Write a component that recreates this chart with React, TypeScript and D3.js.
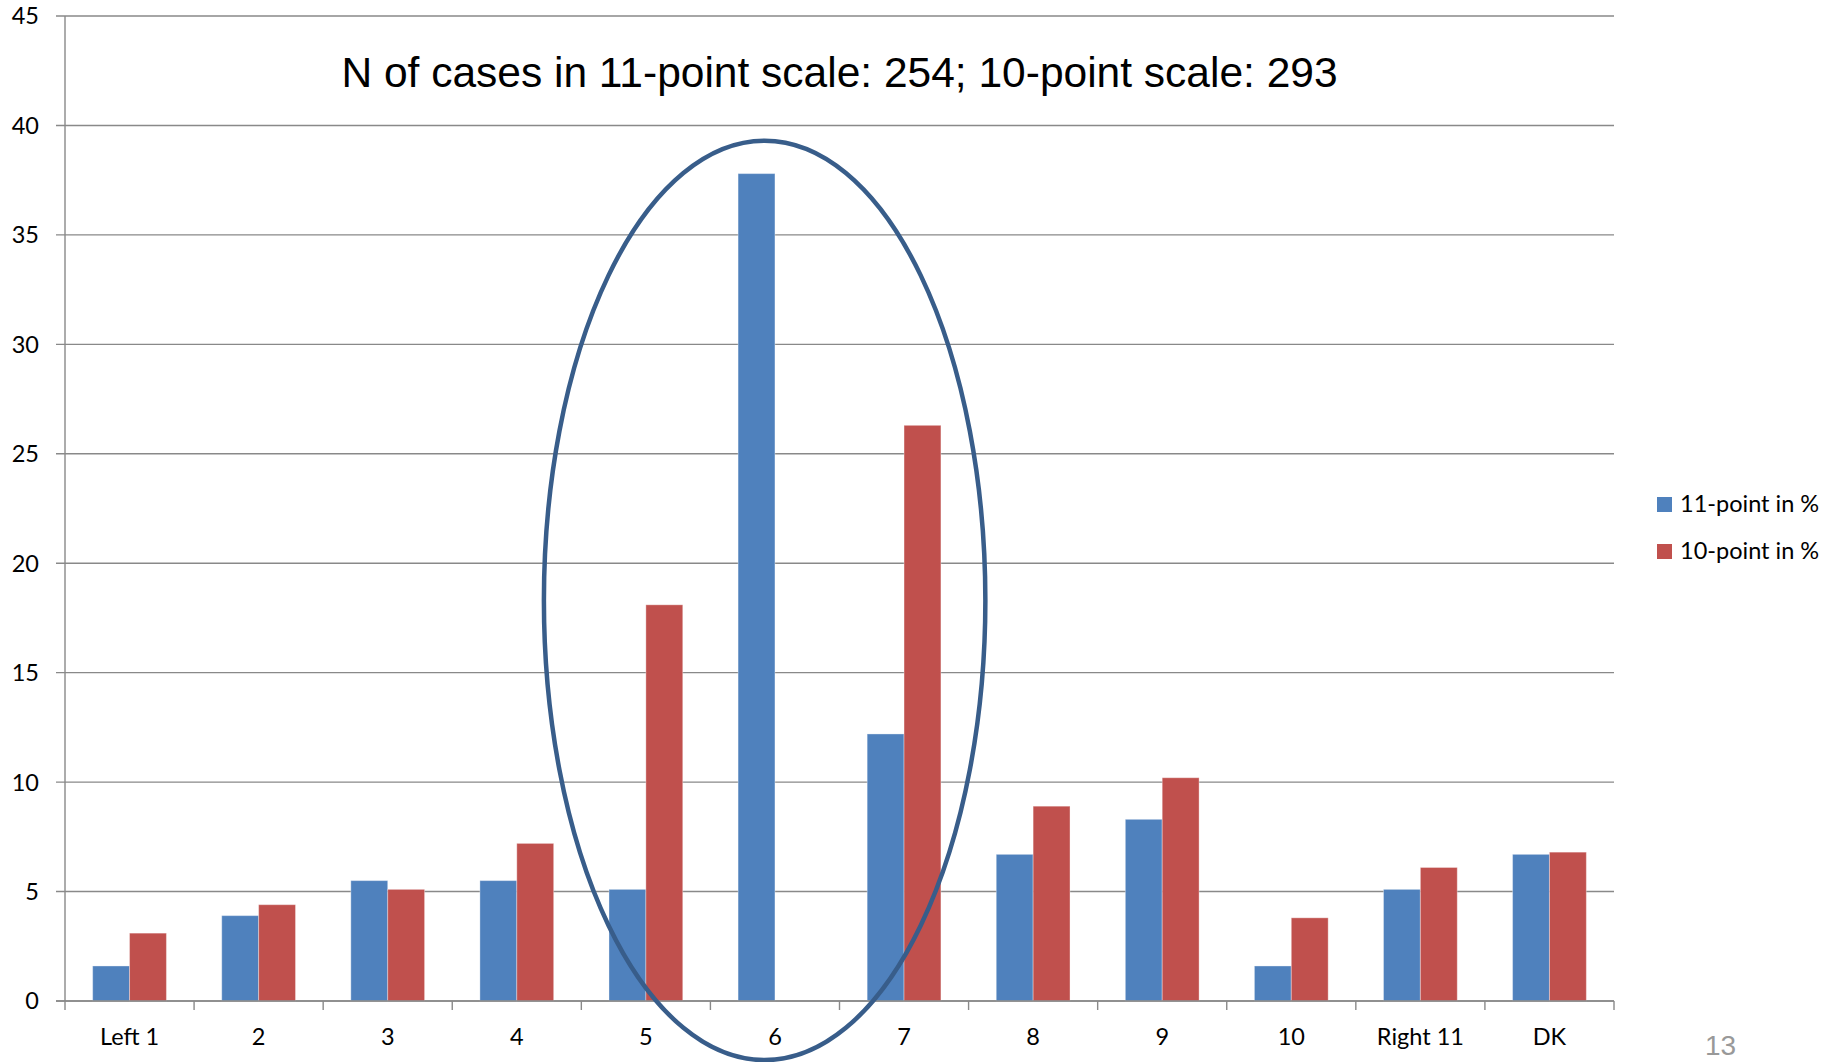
import React from 'react';
import * as d3 from 'd3';

const CATEGORIES = ['Left 1', '2', '3', '4', '5', '6', '7', '8', '9', '10', 'Right 11', 'DK'];
const ELEVEN_POINT = [1.6, 3.9, 5.5, 5.5, 5.1, 37.8, 12.2, 6.7, 8.3, 1.6, 5.1, 6.7];
const TEN_POINT = [3.1, 4.4, 5.1, 7.2, 18.1, 0, 26.3, 8.9, 10.2, 3.8, 6.1, 6.8];
const SERIES_NAMES = ['11-point in %', '10-point in %'];
const Y_TICKS = [0, 5, 10, 15, 20, 25, 30, 35, 40, 45];
const TITLE = 'N of cases in 11-point scale: 254; 10-point scale: 293';

// highlight ellipse around the middle of the scale, in data units
const ELLIPSE_CENTER = 5.42; // in category widths from the left edge
const ELLIPSE_HALF_WIDTH = 1.71; // in category widths
const ELLIPSE_TOP = 39.3;
const ELLIPSE_BOTTOM = -2.7;

const W = 1829;
const H = 1062;
const COLORS = ['#4F81BD', '#C0504D'];
const GRID = '#898989';
const LABEL_FONT = 'Lato, "Open Sans", sans-serif';
const LABEL_SIZE = 23.5;

export default function App() {
  const x = d3.scaleBand<string>().domain(CATEGORIES).range([65, 1614]);
  const y = d3.scaleLinear().domain([0, 45]).range([1001, 16]);
  const bw = x.bandwidth();
  const barW = bw / 3.5;
  const series = [ELEVEN_POINT, TEN_POINT];

  const left = x.range()[0];
  const right = x.range()[1];
  const cx = left + ELLIPSE_CENTER * bw;
  const rx = ELLIPSE_HALF_WIDTH * bw;
  const cy = (y(ELLIPSE_TOP) + y(ELLIPSE_BOTTOM)) / 2;
  const ry = (y(ELLIPSE_BOTTOM) - y(ELLIPSE_TOP)) / 2;

  return (
    <svg width={W} height={H} style={{ position: 'absolute', left: 0, top: 0, background: '#fff' }}>
      {/* gridlines and y ticks */}
      {Y_TICKS.map(t => (
        <g key={t}>
          <line x1={left - 9} x2={right} y1={y(t)} y2={y(t)} stroke={GRID} strokeWidth={1.4} />
          <text x={39} y={y(t)} dy="0.36em" textAnchor="end" fontFamily={LABEL_FONT} fontSize={LABEL_SIZE} fill="#000">
            {t}
          </text>
        </g>
      ))}
      {/* y axis */}
      <line x1={left} x2={left} y1={y(45)} y2={y(0)} stroke={GRID} strokeWidth={1.4} />

      {/* bars */}
      {series.map((vals, si) =>
        vals.map((v, i) =>
          v > 0 ? (
            <rect
              key={`${si}-${i}`}
              x={(x(CATEGORIES[i]) as number) + 0.75 * barW + si * barW}
              y={y(v)}
              width={barW}
              height={y(0) - y(v)}
              fill={COLORS[si]}
              stroke="#ffffff"
              strokeOpacity={0.35}
              strokeWidth={1}
            />
          ) : null
        )
      )}

      {/* x axis with ticks between categories */}
      <line x1={left - 9} x2={right} y1={y(0)} y2={y(0)} stroke={GRID} strokeWidth={1.4} />
      {[...CATEGORIES.map(c => x(c) as number), right].map((px, i) => (
        <line key={i} x1={px} x2={px} y1={y(0)} y2={y(0) + 9} stroke={GRID} strokeWidth={1.4} />
      ))}
      {CATEGORIES.map(c => (
        <text
          key={c}
          x={(x(c) as number) + bw / 2}
          y={1045}
          textAnchor="middle"
          fontFamily={LABEL_FONT}
          fontSize={LABEL_SIZE}
          fill="#000"
        >
          {c}
        </text>
      ))}

      {/* title */}
      <text
        x={(left + right) / 2}
        y={87}
        textAnchor="middle"
        fontFamily='"Liberation Sans", Arial, sans-serif'
        fontSize={42.5}
        fill="#000"
      >
        {TITLE}
      </text>

      {/* highlight ellipse */}
      <ellipse cx={cx} cy={cy} rx={rx} ry={ry} fill="none" stroke="#385D8A" strokeWidth={4.5} />

      {/* legend */}
      {SERIES_NAMES.map((name, i) => (
        <g key={name} transform={`translate(1657, ${504 + i * 47})`}>
          <rect x={0} y={-7} width={15} height={15} fill={COLORS[i]} />
          <text x={23} y={0} dy="0.36em" fontFamily={LABEL_FONT} fontSize={LABEL_SIZE} fill="#000">
            {name}
          </text>
        </g>
      ))}

      {/* slide number */}
      <text x={1705} y={1055} fontFamily='"Liberation Sans", Arial, sans-serif' fontSize={28} fill="#999999">
        13
      </text>
    </svg>
  );
}
